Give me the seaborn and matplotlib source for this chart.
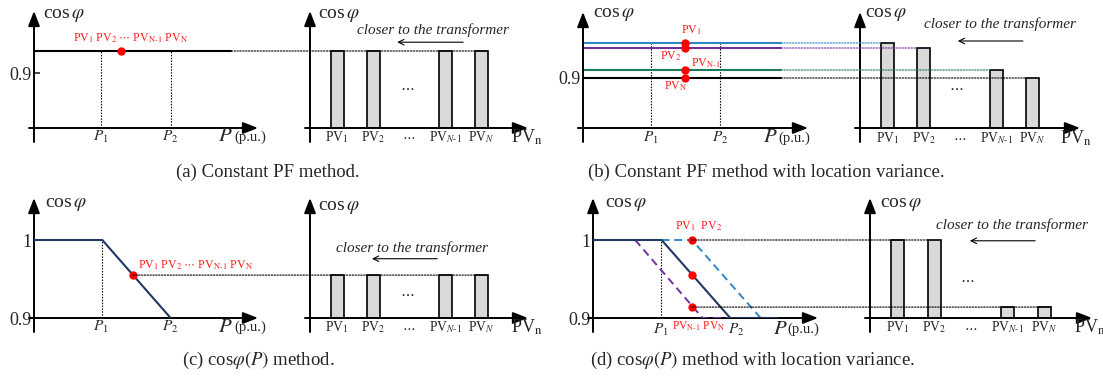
import matplotlib
matplotlib.use("Agg")
import matplotlib.pyplot as plt
import seaborn as sns
from matplotlib.patches import ConnectionPatch

# ---- values (cos phi, P in p.u.) ----
p1, p2 = 0.3, 0.61
p_line_end = 0.88

pf_a = [0.94, 0.94]
p_a = [0.0, p_line_end]
dot_a = (0.39, 0.94)

pf_b = [0.97, 0.96, 0.916, 0.9]
colors_b = ["#2e86c8", "#7030a0", "#1b7a5a", "black"]
dot_b_p = 0.455

curve_p = [0.0, 0.305, 0.61]
curve_pf = [1.0, 1.0, 0.9]
dot_c = (0.44, 0.955)

d_navy_p = [0.0, 0.305, 0.61, 0.82]
d_navy_pf = [1.0, 1.0, 0.9, 0.9]
d_blue_p = [0.305, 0.44, 0.745, 0.82]
d_blue_pf = [1.0, 1.0, 0.9, 0.9]
d_purple_p = [0.1875, 0.487, 0.82]
d_purple_pf = [1.0, 0.9, 0.9]
dots_d_p = 0.44
dots_d_pf = [1.0, 0.955, 0.914]

bar_pos = [1, 2, 4, 5]
bar_labels = [r"PV$_\mathit{1}$", r"PV$_\mathit{2}$", r"PV$_{\mathit{N}\text{-}\mathit{1}}$", r"PV$_\mathit{N}$"]
bars_a = [0.94, 0.94, 0.94, 0.94]
bars_b = [0.97, 0.96, 0.916, 0.9]
bars_c = [0.955, 0.955, 0.955, 0.955]
bars_d = [1.0, 1.0, 0.914, 0.914]

captions = ["(a) Constant PF method.",
            "(b) Constant PF method with location variance.",
            r"(c) cos$\varphi(P)$ method.",
            r"(d) cos$\varphi(P)$ method with location variance."]

NAVY = "#1f3864"
RED = "#ff1a1a"
BAR = "#d9d9d9"

sns.set_theme(style="white")
plt.rcParams["font.family"] = ["Liberation Serif", "DejaVu Serif"]
plt.rcParams["mathtext.fontset"] = "stix"

W, H = 1103, 381
fig = plt.figure(figsize=(W / 100, H / 100), dpi=100)


def axes_at(x0, x1, y0, y1):
    # x0/y0: origin pixel, x1: x-arrow tip, y1: y-arrow tip
    return fig.add_axes([x0 / W, 1 - y0 / H, (x1 - x0) / W, (y0 - y1) / H])


def frame(ax, down=14, back=5):
    bb = ax.get_position()
    hpx, wpx = bb.height * H, bb.width * W
    arr = dict(arrowstyle="-|>,head_length=0.9,head_width=0.35", lw=1.4,
               color="black", mutation_scale=10, shrinkA=0, shrinkB=0)
    ax.annotate("", xy=(0, 1), xytext=(0, -down / hpx), xycoords="axes fraction",
                textcoords="axes fraction", arrowprops=arr)
    ax.annotate("", xy=(1, 0), xytext=(-back / wpx, 0), xycoords="axes fraction",
                textcoords="axes fraction", arrowprops=arr)
    for s in ax.spines.values():
        s.set_visible(False)
    ax.set_facecolor("none")
    ax.set_xticks([])


def left_axes(x0, x1, y0, y1, ylim, ticks, labels):
    ax = axes_at(x0, x1, y0, y1)
    ax.set_xlim(0, 1)
    ax.set_ylim(*ylim)
    frame(ax)
    ax.set_yticks(ticks)
    ax.set_yticklabels(labels, fontsize=13)
    ax.tick_params(axis="y", left=True, direction="in", length=4.5, width=1.2, pad=2)
    return ax


def right_axes(x0, x1, y0, y1, ylim, heights, lab_y, pvn_x):
    ax = axes_at(x0, x1, y0, y1)
    sns.barplot(x=bar_pos, y=heights, native_scale=True, width=0.36, color=BAR,
                saturation=1, edgecolor="black", linewidth=1.2, errorbar=None, ax=ax)
    ax.set_xlim(0.25, 6.3)
    ax.set_ylim(*ylim)
    ax.set_xlabel("")
    ax.set_ylabel("")
    frame(ax)
    ax.set_yticks([])
    for x, s in zip(bar_pos, bar_labels):
        ax.text(x, lab_y, s, fontsize=9.8, ha="center", va="center")
    ax.text(3, lab_y, r"$\cdots$", fontsize=9.8, ha="center", va="center")
    ax.text(pvn_x, lab_y, r"PV$_\mathrm{n}$", fontsize=13, ha="left", va="center")
    return ax


def cos_label(ax, x, y):
    ax.text(x, y, r"cos$\,\varphi$", fontsize=14, ha="left", va="center")


def p_labels(ax, y, px, pux, ticks=(p1, p2)):
    ax.text(ticks[0], y, r"$P_\mathit{1}$", fontsize=11, ha="center", va="center")
    ax.text(ticks[1], y, r"$P_\mathit{2}$", fontsize=11, ha="center", va="center")
    ax.text(px, y, r"$P$", fontsize=15, ha="left", va="center")
    ax.text(pux, y, "(p.u.)", fontsize=10.5, ha="left", va="center")


def closer(ax, xc, yt, xa, xb, ya):
    ax.text(xc, yt, "closer to the transformer", fontsize=11, style="italic",
            ha="center", va="center")
    ax.annotate("", xy=(xb, ya), xytext=(xa, ya),
                arrowprops=dict(arrowstyle="->", lw=0.8, color="black",
                                shrinkA=0, shrinkB=0, mutation_scale=10))


def dotted(ax, xs, ys, color="black"):
    ax.plot(xs, ys, color=color, lw=0.8, ls=(0, (1.3, 1.3)))


def connect(axl, xa, axr, xb, y, color="black"):
    con = ConnectionPatch(xyA=(xa, y), coordsA=axl.transData, xyB=(xb, y),
                          coordsB=axr.transData, color=color, lw=0.8,
                          linestyle=(0, (1.3, 1.3)))
    fig.add_artist(con)


red_a = r"PV$_1$ PV$_2$ $\cdots$ PV$_{\mathrm{N}\text{-}1}$ PV$_\mathrm{N}$"
half = 0.18

# ---- (a) ----
ylim_a = (0.8, 0.8 + 117 / 550)
axl = left_axes(34, 258, 128, 11, ylim_a, [0.9], ["0.9"])
axl.plot(p_a, pf_a, color="black", lw=1.5)
dotted(axl, [p1, p1], [0.8, pf_a[0]])
dotted(axl, [p2, p2], [0.8, pf_a[0]])
axl.plot(*dot_a, "o", color="red", ms=5, zorder=5)
axl.text(0.43, 0.964, red_a, fontsize=8.6, color=RED, ha="center", va="center")
cos_label(axl, 0.04, 1.005)
p_labels(axl, 0.784, 0.82, 0.895)
axr = right_axes(310, 528, 128, 11, ylim_a, bars_a, 0.784, 5.83)
connect(axl, p_line_end, axr, bar_pos[-1] + half, pf_a[0])
cos_label(axr, 0.47, 1.005)
closer(axr, 3.67, 0.978, 4.5, 2.67, 0.956)
axr.text(2.94, 0.873, r"$\cdots$", fontsize=11, ha="center", va="center")

# ---- (b) ----
ylim_b = (0.8, 0.8 + 116 / 500)
axl = left_axes(583, 808, 128, 12, ylim_b, [0.9], ["0.9"])
dotted(axl, [p1, p1], [0.8, pf_b[0]])
dotted(axl, [p2, p2], [0.8, pf_b[0]])
for lev, c in zip(pf_b, colors_b):
    axl.plot([0, p_line_end], [lev, lev], color=c, lw=1.5)
    axl.plot(dot_b_p, lev, "o", color="red", ms=5, zorder=5)
axl.text(0.48, 0.996, r"PV$_1$", fontsize=8.6, color=RED, ha="center", va="center")
axl.text(0.39, 0.944, r"PV$_2$", fontsize=8.6, color=RED, ha="center", va="center")
axl.text(0.545, 0.93, r"PV$_{\mathrm{N}\text{-}1}$", fontsize=8.6, color=RED, ha="center", va="center")
axl.text(0.41, 0.884, r"PV$_\mathrm{N}$", fontsize=8.6, color=RED, ha="center", va="center")
cos_label(axl, 0.045, 1.026)
p_labels(axl, 0.78, 0.8, 0.87)
axr = right_axes(860, 1080, 128, 12, ylim_b, bars_b, 0.78, 5.75)
for x, lev, c in zip(bar_pos, pf_b, colors_b):
    connect(axl, p_line_end, axr, x - half, lev, color=c)
cos_label(axr, 0.39, 1.026)
closer(axr, 4.1, 1.008, 4.73, 2.94, 0.974)
axr.text(2.9, 0.88, r"$\cdots$", fontsize=11, ha="center", va="center")

# ---- (c) ----
ylim_c = (0.9, 0.9 + 120 / 780)
axl = left_axes(34, 258, 318, 198, ylim_c, [0.9, 1.0], ["0.9", "1"])
axl.plot(curve_p, curve_pf, color=NAVY, lw=1.5, zorder=4)
dotted(axl, [curve_p[1], curve_p[1]], [0.9, 1.0])
axl.plot(*dot_c, "o", color="red", ms=5, zorder=5)
axl.text(0.464, 0.968, red_a, fontsize=8.6, color=RED, ha="left", va="center")
cos_label(axl, 0.05, 1.045)
p_labels(axl, 0.888, 0.82, 0.895)
axr = right_axes(310, 528, 318, 198, ylim_c, bars_c, 0.888, 5.83)
connect(axl, dot_c[0], axr, bar_pos[-1] + half, dot_c[1])
cos_label(axr, 0.47, 1.042)
closer(axr, 3.08, 0.99, 3.78, 1.97, 0.976)
axr.text(2.94, 0.932, r"$\cdots$", fontsize=11, ha="center", va="center")

# ---- (d) ----
axl = left_axes(593, 818, 318, 198, ylim_c, [0.9, 1.0], ["0.9", "1"])
axl.plot(d_purple_p, d_purple_pf, color="#7030a0", lw=1.4, dashes=(4, 2.5), zorder=4)
axl.plot(d_blue_p, d_blue_pf, color="#2e86c8", lw=1.4, dashes=(4, 2.5), zorder=4)
axl.plot(d_navy_p, d_navy_pf, color=NAVY, lw=1.5, zorder=4)
dotted(axl, [p1, p1], [0.9, 1.0])
for lev in dots_d_pf:
    axl.plot(dots_d_p, lev, "o", color="red", ms=5, zorder=5)
axl.text(0.366, 1.017, r"PV$_1$  PV$_2$", fontsize=8.6, color=RED, ha="left", va="center")
axl.text(0.35, 0.889, r"PV$_{\mathrm{N}\text{-}1}$ PV$_\mathrm{N}$", fontsize=8.3, color=RED,
         ha="left", va="center")
cos_label(axl, 0.054, 1.045)
p_labels(axl, 0.885, 0.8, 0.866, ticks=(p1, 0.635))
axr = right_axes(870, 1092, 318, 198, ylim_c, bars_d, 0.888, 5.8)
connect(axl, dots_d_p, axr, bar_pos[1] - half, dots_d_pf[0])
connect(axl, dots_d_p, axr, bar_pos[-1] + half, dots_d_pf[2])
cos_label(axr, 0.52, 1.045)
closer(axr, 4.12, 1.019, 4.75, 2.97, 0.999)
axr.text(2.89, 0.949, r"$\cdots$", fontsize=11, ha="center", va="center")

for (cx, cy), s in zip([(268, 172), (766, 172), (258, 360), (752, 360)], captions):
    fig.text(cx / W, 1 - cy / H, s, fontsize=13.5, ha="center", va="center")

fig.savefig("out.png", dpi=100, facecolor="white")
